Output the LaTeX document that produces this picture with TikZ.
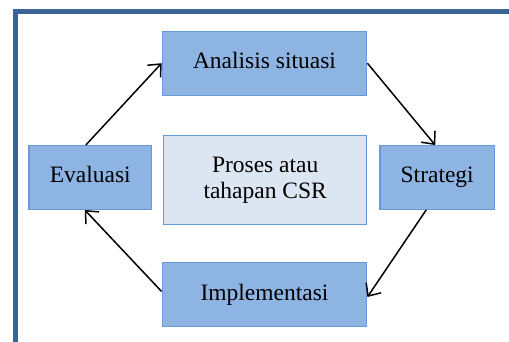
\documentclass[tikz,border=0pt]{standalone}
\usepackage{fontspec}
\setmainfont{Liberation Serif}
\usetikzlibrary{arrows.meta}
\definecolor{frameblue}{HTML}{3B6497}
\definecolor{boxfill}{HTML}{8EB4E3}
\definecolor{boxline}{HTML}{6A9AD6}
\definecolor{centerfill}{HTML}{DCE6F2}
\tikzset{
  stepbox/.style={draw=boxline, line width=1.3pt, fill=boxfill, inner sep=0pt,
    align=center, font=\rmfamily\fontsize{23.5}{27}\selectfont},
  centerbox/.style={stepbox, fill=centerfill},
  flow/.style={line width=1.5pt, -{Straight Barb[length=10pt,width=18pt,line width=1.5pt]}},
}
\begin{document}
\begin{tikzpicture}[x=1pt,y=-1pt]
\useasboundingbox (0,0) rectangle (509,342);
\begin{scope}
\clip (0,0) rectangle (509,342);
\draw[frameblue, line width=4.6pt] (15.3,360) -- (15.3,11.6) -- (530,11.6);
\end{scope}
\node[stepbox, minimum width=204.5pt, minimum height=64pt] (ana) at (264.5,63.7) {\raisebox{6pt}{Analisis situasi}};
\node[stepbox, minimum width=122.7pt, minimum height=63.6pt] (eva) at (90.3,177.5) {\raisebox{6pt}{Evaluasi}};
\node[stepbox, minimum width=114.3pt, minimum height=63.6pt] (str) at (437.2,177.5) {\raisebox{6pt}{Strategi}};
\node[stepbox, minimum width=204.5pt, minimum height=64.4pt] (imp) at (264.5,294.5) {\raisebox{5pt}{Implementasi}};
\node[centerbox, minimum width=203pt, minimum height=88.6pt] (csr) at (265.2,180) {\raisebox{5pt}{\begin{tabular}{@{}c@{}}Proses atau\\[-1pt] tahapan CSR\end{tabular}}};
\draw[flow] ([xshift=-4.5pt]eva.north) -- ([yshift=0.5pt]ana.west);
\draw[flow] ([yshift=0.5pt]ana.east) -- ([xshift=-2pt]str.north);
\draw[flow] ([xshift=-11pt]str.south) -- ([yshift=-2.5pt]imp.east);
\draw[flow] ([yshift=3pt]imp.west) -- ([xshift=-5.5pt]eva.south);
\end{tikzpicture}
\end{document}
